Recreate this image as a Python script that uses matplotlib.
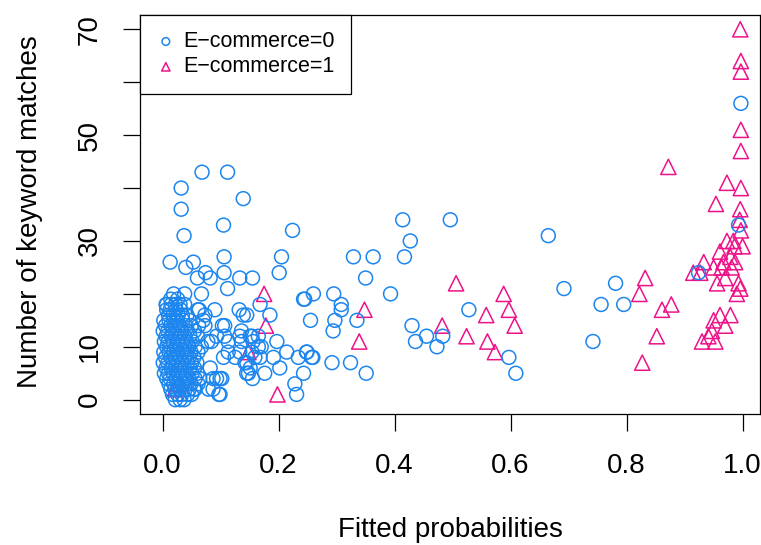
import matplotlib.pyplot as plt

# E-commerce = 0 (fitted probability, keyword matches)
x_ec0 = [
    0.068, 0.112, 0.032, 0.139, 0.032, 0.105, 0.037, 0.224,
    0.013, 0.040, 0.053, 0.106, 0.205, 0.074, 0.060, 0.082, 0.106, 0.133, 0.155, 0.201,
    0.112, 0.067, 0.019, 0.038, 0.007, 0.243, 0.260, 0.168, 0.185, 0.132, 0.145, 0.090,
    0.063, 0.073, 0.103, 0.062, 0.073, 0.136, 0.154, 0.107, 0.084, 0.067, 0.113, 0.136,
    0.165, 0.197, 0.214, 0.248, 0.257, 0.234, 0.191, 0.202, 0.176, 0.148, 0.243, 0.228,
    0.231, 0.099, 0.087, 0.097, 0.079, 0.159, 0.145, 0.125, 0.154,
    0.061, 0.070, 0.107, 0.093, 0.113, 0.078, 0.139, 0.133, 0.151, 0.156, 0.165, 0.170,
    0.133, 0.105, 0.082, 0.093, 0.102, 0.087, 0.099, 0.151, 0.145, 0.155, 0.168, 0.142,
    0.064, 0.056, 0.050,
    0.414, 0.496, 0.665, 0.427, 0.329, 0.363, 0.417, 0.350, 0.245, 0.295, 0.393, 0.308,
    0.308, 0.255, 0.297, 0.335, 0.294, 0.528, 0.692, 0.781, 0.756, 0.795, 0.742, 0.430,
    0.455, 0.483, 0.436, 0.473, 0.597, 0.609, 0.292, 0.324, 0.351, 0.249, 0.259,
    0.997, 0.993, 0.924,
    # dense cluster near zero
    0.002, 0.001, 0.003, 0.002, 0.001, 0.003,
    0.006, 0.007, 0.005, 0.006, 0.007, 0.005, 0.006, 0.007,
    0.010, 0.011, 0.009, 0.010, 0.011, 0.009, 0.010, 0.011,
    0.014, 0.015, 0.013, 0.014, 0.015, 0.013, 0.014, 0.015, 0.013, 0.014,
    0.018, 0.019, 0.017, 0.018, 0.019, 0.017, 0.018, 0.019, 0.017,
    0.022, 0.023, 0.021, 0.022, 0.023, 0.021, 0.022, 0.023, 0.021, 0.022,
    0.026, 0.027, 0.025, 0.026, 0.027, 0.025, 0.026, 0.027, 0.025, 0.026,
    0.030, 0.031, 0.029, 0.030, 0.031, 0.029, 0.030, 0.031, 0.029, 0.030,
    0.034, 0.035, 0.033, 0.034, 0.035, 0.033, 0.034, 0.035, 0.033,
    0.038, 0.039, 0.037, 0.038, 0.039, 0.037, 0.038, 0.039, 0.037,
    0.042, 0.043, 0.041, 0.042, 0.043, 0.041, 0.042, 0.043,
    0.046, 0.047, 0.045, 0.046, 0.047, 0.045, 0.046,
    0.050, 0.051, 0.049, 0.050, 0.051, 0.049,
    0.055, 0.056, 0.054, 0.055, 0.056, 0.054,
    0.060, 0.061, 0.059, 0.060, 0.061,
]
y_ec0 = [
    43, 43, 40, 38, 36, 33, 31, 32,
    26, 25, 26, 27, 27, 24, 23, 23, 24, 23, 23, 24,
    21, 20, 20, 20, 18, 19, 20, 18, 16, 17, 16, 17,
    17, 16, 14, 14, 14, 13, 12, 12, 11, 10, 9, 11,
    12, 11, 9, 9, 8, 8, 8, 6, 5, 5, 5, 3,
    1, 4, 4, 1, 2, 8, 7, 8, 9,
    17, 15, 14, 12, 11, 11, 16, 12, 12, 11, 10, 10,
    9, 8, 6, 4, 4, 2, 1, 6, 5, 4, 8, 7,
    4, 2, 1,
    34, 34, 31, 30, 27, 27, 27, 23, 19, 20, 20, 18,
    17, 15, 15, 15, 13, 17, 21, 22, 18, 18, 11, 14,
    12, 12, 11, 10, 8, 5, 7, 7, 5, 9, 8,
    56, 33, 24,
    15, 13, 11, 9, 7, 5,
    18, 17, 14, 12, 10, 8, 6, 4,
    16, 15, 13, 11, 9, 7, 5, 3,
    19, 18, 17, 14, 12, 10, 8, 6, 4, 2,
    16, 15, 13, 11, 9, 7, 5, 3, 1,
    18, 17, 14, 12, 10, 8, 6, 4, 2, 0,
    19, 16, 15, 13, 11, 9, 7, 5, 3, 1,
    18, 17, 14, 12, 10, 8, 6, 4, 2, 0,
    16, 15, 13, 11, 9, 7, 5, 3, 1,
    18, 14, 12, 10, 8, 6, 4, 2, 0,
    16, 13, 11, 9, 7, 5, 3, 1,
    15, 12, 10, 8, 6, 4, 2,
    14, 11, 9, 7, 5, 3,
    13, 10, 8, 6, 4, 2,
    12, 9, 7, 5, 3,
]

# E-commerce = 1
x_ec1 = [
    0.996, 0.997, 0.997, 0.997, 0.997, 0.872, 0.973, 0.997, 0.954, 0.996, 0.995, 0.997,
    0.973, 0.984, 0.986, 1.000, 0.961, 0.979, 0.967, 0.987, 0.950, 0.933, 0.915, 0.927,
    0.964, 0.981, 0.956, 0.970, 0.993, 0.996, 0.990, 0.979, 0.961, 0.950, 0.970, 0.947,
    0.941, 0.930, 0.953, 0.832, 0.822, 0.861, 0.877, 0.852, 0.827,
    0.348, 0.339, 0.506, 0.482, 0.524, 0.558, 0.588, 0.597, 0.607, 0.560, 0.573,
    0.175, 0.178, 0.148, 0.198, 0.021, 0.028,
]
y_ec1 = [
    70, 64, 62, 51, 47, 44, 41, 40, 37, 36, 34, 32,
    30, 30, 29, 29, 28, 27, 26, 26, 25, 26, 24, 24,
    25, 25, 22, 23, 22, 21, 20, 16, 16, 15, 14, 13,
    12, 11, 11, 23, 20, 17, 18, 12, 7,
    17, 11, 22, 14, 12, 16, 20, 17, 14, 11, 9,
    20, 14, 9, 1, 2, 3,
]

x_ticks = [0.0, 0.2, 0.4, 0.6, 0.8, 1.0]
y_ticks = [0, 10, 20, 30, 40, 50, 60, 70]
y_ticklabels = ['0', '10', '', '30', '', '50', '', '70']

blue = '#1C86EE'
pink = '#EE1289'

plt.rcParams['font.family'] = ['Liberation Sans', 'DejaVu Sans']

fig = plt.figure(figsize=(7.61, 5.45), dpi=100)
ax = fig.add_axes([140 / 761, 131 / 545, 620 / 761, 399 / 545])

tri = ax.scatter(x_ec1, y_ec1, s=120, marker='^', facecolors='none', edgecolors=pink,
                 linewidths=1.1, label='E\u2212commerce=1', zorder=2)
circ = ax.scatter(x_ec0, y_ec0, s=100, marker='o', facecolors='none', edgecolors=blue,
                  linewidths=1.1, label='E\u2212commerce=0', zorder=3)

ax.set_xlim(-0.039, 1.030)
ax.set_ylim(-2.7, 72.7)

ax.set_xticks(x_ticks)
ax.set_xticklabels([f'{t:.1f}' for t in x_ticks])
ax.set_yticks(y_ticks)
ax.set_yticklabels(y_ticklabels)
ax.tick_params(direction='out', length=12, width=0.9, labelsize=20, colors='black')
ax.tick_params(axis='x', pad=16)
ax.tick_params(axis='y', pad=15)
for lbl in ax.get_yticklabels():
    lbl.set_rotation(90)
    lbl.set_va('center')

for sp in ax.spines.values():
    sp.set_linewidth(0.9)

leg = ax.legend(handles=[circ, tri], loc='upper left', bbox_to_anchor=(0, 1),
                borderaxespad=0, fancybox=False, edgecolor='black', framealpha=1,
                fontsize=15.5, markerscale=0.55, handletextpad=0.35, borderpad=0.75,
                labelspacing=0.2, handlelength=0.9)
leg.get_frame().set_linewidth(0.9)
leg.set_zorder(5)

fig.text(450 / 761, 1 - 530 / 545, 'Fitted probabilities', ha='center', va='center',
         fontsize=20)
fig.text(30 / 761, 1 - 212 / 545, 'Number of keyword matches', ha='center', va='center',
         rotation=90, fontsize=20)

fig.savefig('out.png', dpi=100)
